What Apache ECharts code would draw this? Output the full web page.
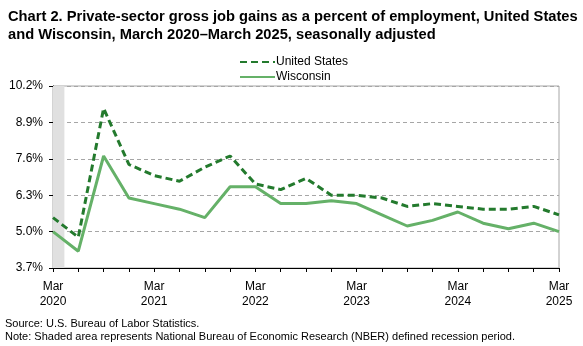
<!DOCTYPE html>
<html lang="en">
<head>
    <meta charset="UTF-8">
    <title>Chart 2</title>
    <style>
        * { margin: 0; padding: 0; }
        html, body { width: 583px; height: 346px; overflow: hidden; background: #fff; }
        #chart { width: 583px; height: 346px; }
    </style>
</head>
<body>
    <div id="chart"></div>
    <script src="https://cdn.jsdelivr.net/npm/echarts@6/dist/echarts.min.js"></script>
    <script>
        // quarterly, Mar 2020 .. Mar 2025
        let quarters = ['Mar 2020', 'Jun 2020', 'Sep 2020', 'Dec 2020',
            'Mar 2021', 'Jun 2021', 'Sep 2021', 'Dec 2021',
            'Mar 2022', 'Jun 2022', 'Sep 2022', 'Dec 2022',
            'Mar 2023', 'Jun 2023', 'Sep 2023', 'Dec 2023',
            'Mar 2024', 'Jun 2024', 'Sep 2024', 'Dec 2024', 'Mar 2025'];
        let usValues = [5.5, 4.8, 9.4, 7.4, 7.0, 6.8, 7.3, 7.7, 6.7, 6.5, 6.9,
            6.3, 6.3, 6.2, 5.9, 6.0, 5.9, 5.8, 5.8, 5.9, 5.6];
        let wiValues = [5.0, 4.3, 7.7, 6.2, 6.0, 5.8, 5.5, 6.6, 6.6, 6.0, 6.0,
            6.1, 6.0, 5.6, 5.2, 5.4, 5.7, 5.3, 5.1, 5.3, 5.0];
        let yTicks = [3.7, 5.0, 6.3, 7.6, 8.9, 10.2];
        let recession = [0, 0.45]; // Mar-Apr 2020, in quarter units

        function pairs(vals) {
            return vals.map((v, i) => [i, v]);
        }

        let chart = echarts.init(document.getElementById('chart'));
        let option = {
            animation: false,
            textStyle: { fontFamily: 'Liberation Sans, Arial, sans-serif' },
            title: {
                text: 'Chart 2. Private-sector gross job gains as a percent of employment, United States\nand Wisconsin, March 2020\u2013March 2025, seasonally adjusted',
                left: 3,
                top: 3,
                textStyle: { fontSize: 14.7, fontWeight: 'bold', color: '#000', lineHeight: 18 }
            },
            legend: {
                orient: 'vertical',
                left: 234,
                top: 51,
                itemWidth: 35,
                itemHeight: 10,
                itemGap: 3,
                itemStyle: { opacity: 0 },
                textStyle: { fontSize: 12, color: '#000', padding: [0, 0, 0, -4] },
                data: ['United States', 'Wisconsin']
            },
            graphic: [{
                type: 'text',
                left: 5,
                top: 317,
                style: {
                    text: 'Source: U.S. Bureau of Labor Statistics.\nNote: Shaded area represents National Bureau of Economic Research (NBER) defined recession period.',
                    font: '11px Liberation Sans, Arial, sans-serif',
                    lineHeight: 13,
                    fill: '#000'
                }
            }],
            grid: {
                left: 53,
                right: 24,
                top: 86,
                bottom: 78,
                show: true,
                borderColor: '#a6a6a6',
                borderWidth: 1
            },
            xAxis: {
                type: 'value',
                min: 0,
                max: quarters.length - 1,
                interval: 1,
                axisLine: { lineStyle: { color: '#000' } },
                axisTick: { show: true, length: 4, lineStyle: { color: '#000' } },
                splitLine: { show: false },
                axisLabel: {
                    color: '#000',
                    fontSize: 12,
                    lineHeight: 15,
                    margin: 11,
                    showMaxLabel: true,
                    formatter: function(v) {
                        if (v % 4 !== 0) return '';
                        return quarters[v].replace(' ', '\n');
                    }
                }
            },
            yAxis: {
                type: 'value',
                min: yTicks[0],
                max: yTicks[yTicks.length - 1],
                interval: 1.3,
                axisLine: { show: true, lineStyle: { color: '#000' } },
                axisTick: { show: true, length: 4, inside: false, lineStyle: { color: '#000' } },
                splitLine: { show: true, lineStyle: { color: '#a6a6a6', type: [4, 3] } },
                axisLabel: {
                    color: '#000',
                    fontSize: 12,
                    margin: 10,
                    formatter: function(v) { return v.toFixed(1) + '%'; }
                }
            },
            series: [{
                name: 'United States',
                type: 'line',
                symbol: 'none',
                data: pairs(usValues),
                lineStyle: { color: '#237a2d', width: 3, type: [7, 4] },
                itemStyle: { color: '#237a2d' },
                z: 3
            }, {
                name: 'Wisconsin',
                type: 'line',
                symbol: 'none',
                data: pairs(wiValues),
                lineStyle: { color: '#65b168', width: 3 },
                itemStyle: { color: '#65b168' },
                z: 2,
                markArea: {
                    silent: true,
                    itemStyle: { color: '#e0e0e0' },
                    data: [[{ xAxis: recession[0] }, { xAxis: recession[1] }]]
                }
            }]
        };
        chart.setOption(option);
    </script>
</body>
</html>
